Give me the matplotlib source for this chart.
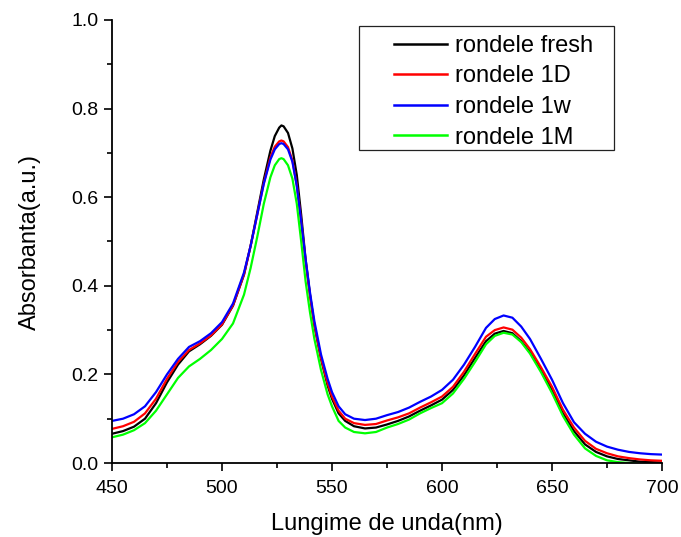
import matplotlib
matplotlib.use("Agg")
import matplotlib.pyplot as plt
from matplotlib.patches import Rectangle
from matplotlib.ticker import MultipleLocator

plt.rcParams['font.family'] = ['Liberation Sans', 'DejaVu Sans']

wavelength = [450, 455, 460, 465, 470, 475, 480, 485, 490, 495, 500, 505, 510, 513, 516, 519,
              522, 524, 526, 527, 528, 530, 532, 534, 536, 538, 540, 542, 545, 548, 550, 553,
              556, 560, 565, 570, 575, 580, 585, 590, 595, 600, 605, 610, 615, 620, 624, 628,
              632, 636, 640, 645, 650, 655, 660, 665, 670, 675, 680, 685, 690, 695, 700]

fresh = [0.066, 0.072, 0.082, 0.100, 0.135, 0.182, 0.222, 0.252, 0.268, 0.287, 0.312, 0.355,
         0.425, 0.490, 0.565, 0.640, 0.705, 0.738, 0.757, 0.762, 0.760, 0.745, 0.710, 0.650,
         0.560, 0.460, 0.380, 0.310, 0.235, 0.175, 0.145, 0.112, 0.095, 0.083, 0.078, 0.080,
         0.087, 0.095, 0.105, 0.118, 0.130, 0.143, 0.165, 0.198, 0.237, 0.275, 0.292, 0.298,
         0.293, 0.275, 0.250, 0.210, 0.165, 0.112, 0.072, 0.042, 0.025, 0.015, 0.009, 0.006,
         0.003, 0.002, 0.001]

d1 = [0.077, 0.083, 0.093, 0.112, 0.145, 0.190, 0.228, 0.255, 0.270, 0.288, 0.313, 0.356,
      0.426, 0.490, 0.560, 0.632, 0.690, 0.714, 0.726, 0.728, 0.726, 0.713, 0.683, 0.627,
      0.545, 0.455, 0.378, 0.312, 0.237, 0.180, 0.150, 0.118, 0.100, 0.090, 0.086, 0.088,
      0.096, 0.103, 0.112, 0.125, 0.137, 0.150, 0.172, 0.206, 0.246, 0.285, 0.300, 0.306,
      0.301, 0.283, 0.257, 0.216, 0.172, 0.120, 0.080, 0.050, 0.032, 0.022, 0.015, 0.011,
      0.008, 0.006, 0.005]

w1 = [0.095, 0.100, 0.110, 0.128, 0.160, 0.200, 0.235, 0.262, 0.275, 0.293, 0.318, 0.360,
      0.430, 0.490, 0.560, 0.630, 0.685, 0.708, 0.720, 0.722, 0.720, 0.708, 0.680, 0.625,
      0.545, 0.460, 0.385, 0.320, 0.245, 0.190, 0.160, 0.128, 0.110, 0.100, 0.097, 0.100,
      0.108, 0.115, 0.125, 0.138, 0.150, 0.165, 0.188, 0.222, 0.262, 0.305, 0.325, 0.333,
      0.328, 0.308, 0.280, 0.235, 0.188, 0.135, 0.092, 0.066, 0.048, 0.037, 0.030, 0.025,
      0.022, 0.020, 0.019]

m1 = [0.058, 0.064, 0.074, 0.090, 0.118, 0.155, 0.192, 0.218, 0.235, 0.255, 0.280, 0.315,
      0.380, 0.440, 0.510, 0.585, 0.645, 0.672, 0.686, 0.688, 0.686, 0.672, 0.642, 0.585,
      0.500, 0.410, 0.340, 0.280, 0.210, 0.155, 0.128, 0.095, 0.080, 0.070, 0.067, 0.070,
      0.080, 0.088, 0.098, 0.112, 0.124, 0.135, 0.157, 0.190, 0.228, 0.268, 0.287, 0.294,
      0.290, 0.273, 0.247, 0.205, 0.158, 0.106, 0.064, 0.033, 0.016, 0.006, 0.002, 0.000,
      -0.002, -0.003, -0.004]

labels = ["rondele fresh", "rondele 1D", "rondele 1w", "rondele 1M"]
colors = ["#000000", "#ff0000", "#0000ff", "#00ff00"]
series = [fresh, d1, w1, m1]

fig = plt.figure(figsize=(6.81, 5.37), dpi=100)
ax = fig.add_axes([112 / 681, 1 - 463 / 537, 550 / 681, 443 / 537])

handles = []
for s, c, lab in zip(series, colors, labels):
    h, = ax.plot(wavelength, s, color=c, lw=1.6, label=lab)
    handles.append(h)

ax.set_xlim(450, 700)
ax.set_ylim(0, 1.0)
ax.xaxis.set_major_locator(MultipleLocator(50))
ax.xaxis.set_minor_locator(MultipleLocator(25))
ax.yaxis.set_major_locator(MultipleLocator(0.2))
ax.yaxis.set_minor_locator(MultipleLocator(0.1))
ax.yaxis.set_major_formatter(matplotlib.ticker.FormatStrFormatter('%.1f'))

for side in ['top', 'right']:
    ax.spines[side].set_visible(False)
for side in ['left', 'bottom']:
    ax.spines[side].set_linewidth(1.3)

ax.tick_params(which='major', direction='out', length=5.5, width=1.2, labelsize=14, pad=4)
ax.tick_params(which='minor', direction='out', length=3.5, width=1.2)
ax.tick_params(axis='x', which='major', pad=7)

ax.set_xlabel("Lungime de unda(nm)", fontsize=17, labelpad=11)
ax.set_ylabel("Absorbanta(a.u.)", fontsize=17, labelpad=22)

leg = fig.legend(handles=handles, loc='upper left', bbox_to_anchor=(394 / 681, 1 - 35 / 537),
                 frameon=False, fontsize=17, handlelength=2.25, handletextpad=0.33,
                 labelspacing=0.36, borderpad=0, borderaxespad=0)
for line in leg.get_lines():
    line.set_linewidth(1.8)

fig.patches.append(Rectangle((359 / 681, 1 - 150 / 537), 255 / 681, 124 / 537,
                             transform=fig.transFigure, fill=False, edgecolor='#222222',
                             linewidth=0.9, zorder=5))

fig.savefig("out.png", dpi=100)
